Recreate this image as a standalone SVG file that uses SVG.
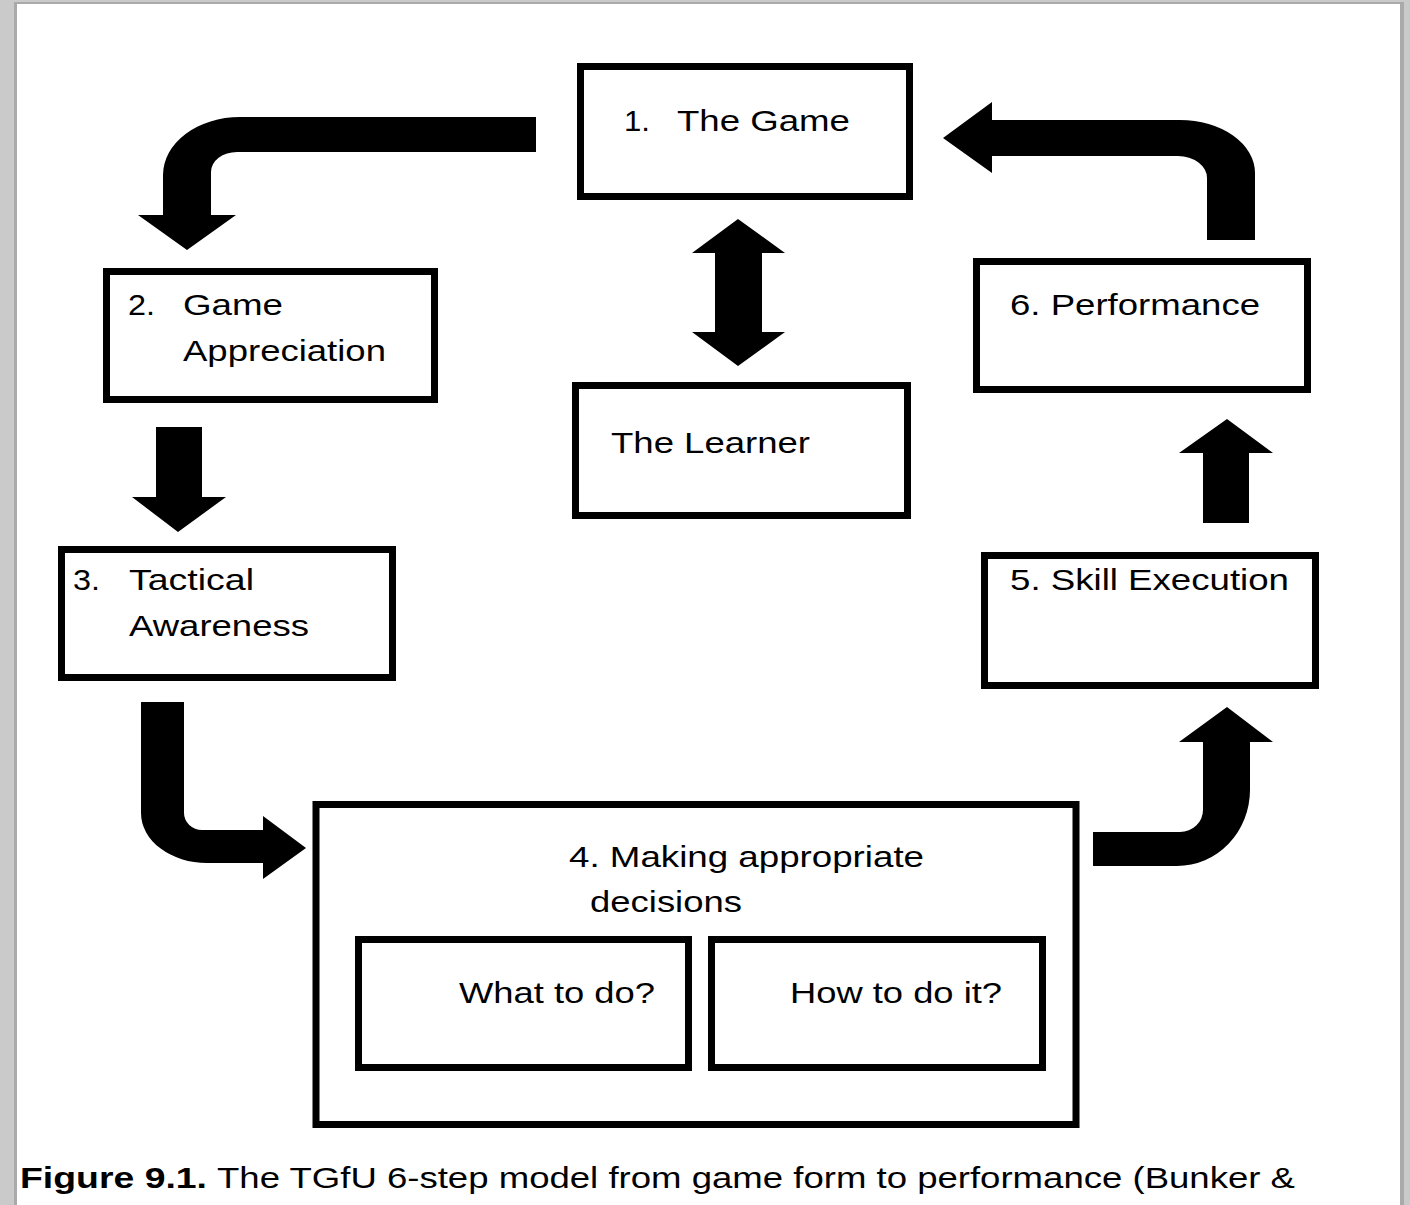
<svg xmlns="http://www.w3.org/2000/svg" width="1410" height="1205" viewBox="0 0 1410 1205">
<style>
.box{fill:#fff;stroke:#000;stroke-width:7}
.t{font-family:"Liberation Sans",Arial,sans-serif;font-size:30px;fill:#000}
.cap{font-family:"Liberation Sans",Arial,sans-serif;font-size:30px;fill:#000}
.arr{fill:#000;stroke:none}
</style>
<rect x="0" y="0" width="1410" height="1205" fill="#c9cac9"/>
<rect x="14" y="2" width="1390" height="1205" fill="#a9aaa9"/>
<rect x="17" y="4" width="1383" height="1205" fill="#fff"/>

<g id="connectors">
<path class="arr" d="M536 117 L240 117 A77 58 0 0 0 163 175 L163 215 L138 215 L187 250 L236 215 L211 215 L211 172 A26 20 0 0 1 237 152 L536 152 Z"/>
<path class="arr" d="M156 427 L202 427 L202 497 L226 497 L178 532 L132 497 L156 497 Z"/>
<path class="arr" d="M141 702 L184 702 L184 813 A18 17 0 0 0 202 830 L263 830 L263 816 L306 848 L263 879 L263 863 L207 863 A66 50 0 0 1 141 813 Z"/>
<path class="arr" d="M1093 832 L1180 832 A23 22 0 0 0 1203 810 L1203 742 L1179 742 L1227 707 L1273 742 L1250 742 L1250 790 A73 76 0 0 1 1177 866 L1093 866 Z"/>
<path class="arr" d="M1227 419 L1273 453 L1249 453 L1249 523 L1203 523 L1203 453 L1179 453 Z"/>
<path class="arr" d="M1255 240 L1255 173 A75 53 0 0 0 1180 120 L992 120 L992 102 L943 138 L992 173 L992 156 L1178 156 A29 22 0 0 1 1207 178 L1207 240 Z"/>
<path class="arr" d="M738 219 L785 253 L762 253 L762 332 L785 332 L738 366 L692 332 L715 332 L715 253 L692 253 Z"/>
</g>

<g id="node1">
<rect class="box" x="580.5" y="66.5" width="329" height="130"/>
<text class="t" x="624" y="131" textLength="26" lengthAdjust="spacingAndGlyphs">1.</text>
<text class="t" x="677" y="131" textLength="173" lengthAdjust="spacingAndGlyphs">The Game</text>
</g>

<g id="node2">
<rect class="box" x="106.5" y="271.5" width="328" height="128"/>
<text class="t" x="128" y="315" textLength="27" lengthAdjust="spacingAndGlyphs">2.</text>
<text class="t" x="183" y="315" textLength="100" lengthAdjust="spacingAndGlyphs">Game</text>
<text class="t" x="183" y="361" textLength="203" lengthAdjust="spacingAndGlyphs">Appreciation</text>
</g>

<g id="node3">
<rect class="box" x="61.5" y="549.5" width="331" height="128"/>
<text class="t" x="73" y="590" textLength="27" lengthAdjust="spacingAndGlyphs">3.</text>
<text class="t" x="129" y="590" textLength="125" lengthAdjust="spacingAndGlyphs">Tactical</text>
<text class="t" x="129" y="636" textLength="180" lengthAdjust="spacingAndGlyphs">Awareness</text>
</g>

<g id="learner">
<rect class="box" x="575.5" y="385.5" width="332" height="130"/>
<text class="t" x="611" y="453" textLength="199" lengthAdjust="spacingAndGlyphs">The Learner</text>
</g>

<g id="node6">
<rect class="box" x="976.5" y="261.5" width="331" height="128"/>
<text class="t" x="1010" y="315" textLength="250" lengthAdjust="spacingAndGlyphs">6. Performance</text>
</g>

<g id="node5">
<rect class="box" x="984.5" y="555.5" width="331" height="130"/>
<text class="t" x="1010" y="590" textLength="279" lengthAdjust="spacingAndGlyphs">5. Skill Execution</text>
</g>

<g id="node4">
<rect class="box" x="316" y="804.5" width="760" height="320"/>
<text class="t" x="569" y="867" textLength="355" lengthAdjust="spacingAndGlyphs">4. Making appropriate</text>
<text class="t" x="590" y="912" textLength="152" lengthAdjust="spacingAndGlyphs">decisions</text>
</g>

<g id="what">
<rect class="box" x="358.5" y="939.5" width="330" height="128"/>
<text class="t" x="459" y="1003" textLength="196" lengthAdjust="spacingAndGlyphs">What to do?</text>
</g>

<g id="how">
<rect class="box" x="711.5" y="939.5" width="331" height="128"/>
<text class="t" x="790" y="1003" textLength="212" lengthAdjust="spacingAndGlyphs">How to do it?</text>
</g>

<g id="caption">
<text class="cap" x="20" y="1188" font-weight="bold" textLength="187" lengthAdjust="spacingAndGlyphs">Figure 9.1.</text>
<text class="cap" x="217" y="1188" textLength="1078" lengthAdjust="spacingAndGlyphs">The TGfU 6-step model from game form to performance (Bunker &amp;</text>
</g>
</svg>
